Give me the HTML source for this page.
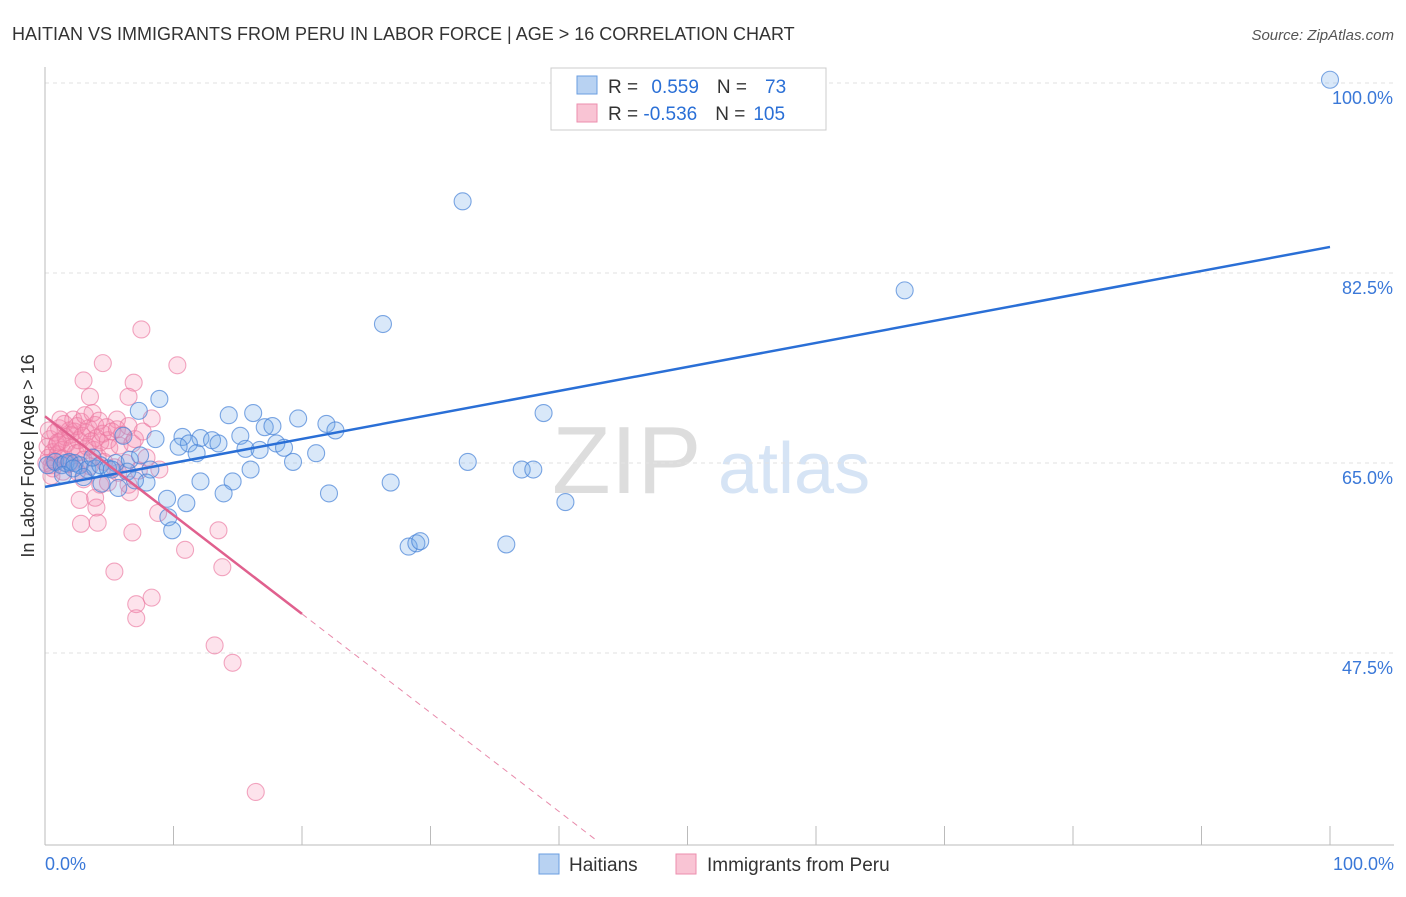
<!DOCTYPE html>
<html><head><meta charset="utf-8"><style>
body{margin:0;background:#fff;font-family:"Liberation Sans",sans-serif}
svg text{font-family:"Liberation Sans",sans-serif}
</style></head><body>
<svg id="chart" width="1406" height="892" xmlns="http://www.w3.org/2000/svg">
<text x="12" y="40" font-size="18" fill="#333">HAITIAN VS IMMIGRANTS FROM PERU IN LABOR FORCE | AGE &gt; 16 CORRELATION CHART</text>
<text x="1394" y="40" font-size="15" fill="#555" text-anchor="end" font-style="italic">Source: ZipAtlas.com</text>
<g>
<text x="552" y="493" font-size="96" fill="#ddd" font-family="Liberation Serif">ZIP</text>
<text x="718" y="493" font-size="72" fill="#d6e4f5">atlas</text>
</g>
<g id="grid"></g>
<g id="axes"></g>
<g id="pts"></g>
<g id="trends"></g>
<g>
<rect x="551" y="68" width="275" height="62" fill="#fff" stroke="#ccc"/>
<rect x="577" y="76" width="20" height="18" fill="#b8d2f2" stroke="#6a9ee0"/>
<rect x="577" y="104" width="20" height="18" fill="#f9c4d4" stroke="#ec8eae"/>
<text x="608" y="93" font-size="19" fill="#333">R = <tspan fill="#2a6fd6" dx="8">0.559</tspan><tspan fill="#333" dx="18">N =</tspan><tspan fill="#2a6fd6" dx="18">73</tspan></text>
<text x="608" y="120" font-size="19" fill="#333">R = <tspan fill="#2a6fd6">-0.536</tspan><tspan fill="#333" dx="18">N =</tspan><tspan fill="#2a6fd6" dx="8">105</tspan></text>
</g>
<g>
<rect x="539" y="854" width="20" height="20" fill="#b8d2f2" stroke="#6a9ee0"/>
<text x="569" y="871" font-size="19" fill="#333">Haitians</text>
<text x="707" y="871" font-size="19" fill="#333">Immigrants from Peru</text>
<rect x="676" y="854" width="20" height="20" fill="#f9c4d4" stroke="#ec8eae"/>
</g>
<text transform="translate(34,456) rotate(-90)" font-size="18" fill="#333" text-anchor="middle">In Labor Force | Age &gt; 16</text>
</svg>
<script>
const yTicks=[100,82.5,65,47.5];
const yTickLabels=["100.0%","82.5%","65.0%","47.5%"];
const xTickLabels=["0.0%","100.0%"];
const haitiX=[100,32.5,66.9,26.3,8.9,7.3,14.3,16.2,19.7,21.9,38.8,22.6,17.1,17.7,10.7,8.6,15.2,12.1,13.0,6.1,11.2,13.5,10.4,15.6,16.7,18.0,18.6,11.8,21.1,19.3,32.9,16.0,37.1,38.0,8.2,6.4,5.5,12.1,14.6,7.9,13.9,22.1,26.9,9.5,11.0,40.5,9.6,9.9,28.3,28.9,29.2,35.9,0.2,0.8,1.3,1.6,1.9,2.3,2.7,3.3,3.9,4.3,4.9,5.2,1.4,2.2,3.7,6.6,7.4,3.0,4.4,5.7,7.0];
const haitiY=[100.3,89.1,80.9,77.8,70.9,69.8,69.4,69.6,69.1,68.6,69.6,68.0,68.3,68.4,67.4,67.2,67.5,67.3,67.1,67.5,66.8,66.8,66.5,66.3,66.2,66.8,66.4,65.9,65.9,65.1,65.1,64.4,64.4,64.4,64.4,64.2,65.0,63.3,63.3,63.2,62.2,62.2,63.2,61.7,61.3,61.4,60.0,58.8,57.3,57.6,57.8,57.5,64.8,65.1,64.8,65.0,65.1,65.0,64.8,64.4,64.5,64.8,64.5,64.4,63.9,64.5,65.5,65.3,65.7,63.7,63.1,62.7,63.4];
const peruX=[7.5,4.5,10.3,3.0,6.9,3.5,6.5,8.3,5.6,4.9,8.9,2.7,4.0,4.1,2.8,6.8,10.9,13.5,5.4,13.8,7.1,8.3,7.1,13.2,14.6,16.4,6.6,6.5,8.8,7.9,4.3,4.9,5.7,3.9,0.2,0.3,0.4,0.5,0.6,0.7,0.8,0.9,1.0,1.1,1.2,1.3,1.4,1.5,1.6,1.7,1.8,1.9,2.0,2.1,2.2,2.3,2.4,2.5,2.6,2.7,2.8,2.9,3.0,3.1,3.2,3.3,3.4,3.5,3.6,3.7,3.8,3.9,4.0,4.1,4.2,4.3,4.5,4.6,4.8,5.0,5.2,5.4,5.6,5.8,6.0,6.3,6.5,6.8,7.0,7.3,7.6,0.1,0.3,0.6,1.0,1.4,2.0,2.5,3.0,1.2,0.5];
const peruY=[77.3,74.2,74.0,72.6,72.4,71.1,71.1,69.1,69.0,67.1,64.4,61.6,60.9,59.5,59.4,58.6,57.0,58.8,55.0,55.4,52.0,52.6,50.7,48.2,46.6,34.7,62.3,63.0,60.4,65.5,63.0,63.2,64.1,61.8,66.5,65.5,67.2,64.8,66.0,65.2,67.8,66.6,65.8,68.2,67.0,66.2,65.4,68.6,67.4,66.8,64.9,68.0,67.6,66.4,69.0,67.9,65.9,68.4,67.1,66.0,68.8,67.5,65.3,69.4,67.8,66.5,68.2,64.7,67.0,69.6,66.2,68.5,67.3,65.6,68.9,66.9,67.7,65.1,68.3,66.4,67.9,64.6,68.1,66.6,67.6,65.0,68.4,66.8,67.2,64.3,67.9,65.0,68.0,64.5,66.9,64.2,65.0,64.2,63.5,69.0,63.8];
const haitiTrend=[62.8,84.9];
const peruTrend=[69.3,-0.91];
const NS="http://www.w3.org/2000/svg";
const X=v=>45+v*12.85, Y=v=>463-(v-65)*10.857;
function mk(t,a,p){const e=document.createElementNS(NS,t);for(const k in a)e.setAttribute(k,a[k]);p.appendChild(e);return e;}
const grid=document.getElementById('grid'),axes=document.getElementById('axes'),pts=document.getElementById('pts'),tr=document.getElementById('trends');
yTicks.forEach((t,i)=>{
 const l=mk('line',{x1:45,x2:1394,y1:Y(t),y2:Y(t),stroke:'#e2e2e2','stroke-dasharray':'4,4'},grid);
 
 
 const tx=mk('text',{x:1393,y:Y(t)+21,'font-size':18,fill:'#3a78d8','text-anchor':'end'},axes);
 tx.textContent=yTickLabels[i];
 
 
});
const ax=mk('line',{x1:45,x2:1394,y1:845,y2:845,stroke:'#bbb'},axes);


const ay=mk('line',{x1:45,x2:45,y1:67,y2:845,stroke:'#bbb'},axes);


for(let i=0;i<=10;i++){const t=mk('line',{x1:X(i*10),x2:X(i*10),y1:826,y2:845,stroke:'#bbb'},axes);
 
 }
[[0,'start',45],[100,'end',1394]].forEach((d,i)=>{const t=mk('text',{x:d[2],y:870,'font-size':18,fill:'#3a78d8','text-anchor':d[1]},axes);t.textContent=xTickLabels[i];
 
 });
peruX.forEach((x,i)=>{const c=mk('circle',{cx:X(x),cy:Y(peruY[i]),r:8.5,fill:'rgba(245,140,175,0.24)',stroke:'rgba(235,120,160,0.65)','stroke-width':1.1},pts);
 
 });
haitiX.forEach((x,i)=>{const c=mk('circle',{cx:X(x),cy:Y(haitiY[i]),r:8.5,fill:'rgba(110,165,230,0.26)',stroke:'rgba(70,130,215,0.7)','stroke-width':1.1},pts);
 
 });
const bl=mk('line',{x1:X(0),y1:Y(haitiTrend[0]),x2:X(100),y2:Y(haitiTrend[1]),stroke:'#2a6fd6','stroke-width':2.5},tr);


const pl=mk('line',{x1:X(0),y1:Y(peruTrend[0]),x2:X(20),y2:Y(peruTrend[0]+peruTrend[1]*20),stroke:'#e0608e','stroke-width':2.5},tr);


const pd=mk('line',{x1:X(20),y1:Y(peruTrend[0]+peruTrend[1]*20),x2:X(43),y2:Y(peruTrend[0]+peruTrend[1]*43),stroke:'#e88aab','stroke-width':1,'stroke-dasharray':'6,5'},tr);


</script>
</body></html>
